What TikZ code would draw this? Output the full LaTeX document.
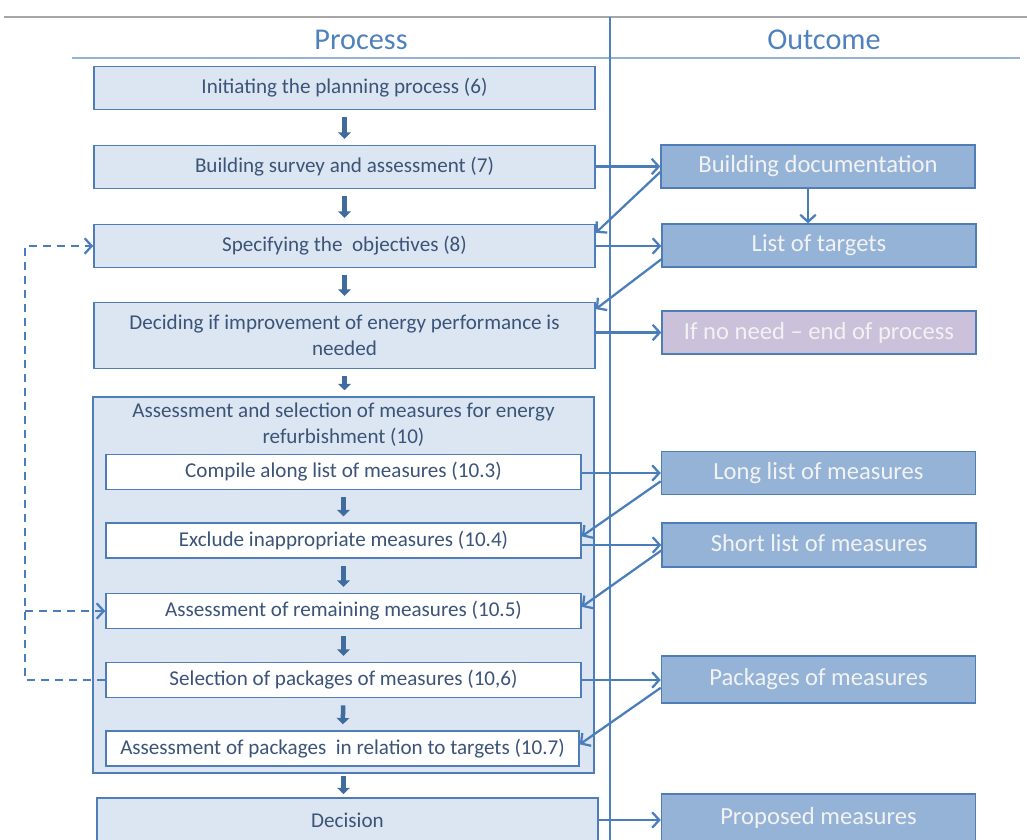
\documentclass[tikz,border=0pt]{standalone}
\usepackage{fontspec}
\setmainfont{Carlito}
\usetikzlibrary{arrows.meta}
\definecolor{boxfill}{HTML}{DCE6F2}
\definecolor{boxline}{HTML}{4F7DB8}
\definecolor{boxtext}{HTML}{3B5478}
\definecolor{outfill}{HTML}{95B3D7}
\definecolor{nofill}{HTML}{CCC1DA}
\definecolor{headblue}{HTML}{4F81BD}
\definecolor{arrowblue}{HTML}{4A7EBB}

\begin{document}
\begin{tikzpicture}[
	x=0.025cm, y=-0.025cm,
	stage/.style={ draw=boxline, fill=boxfill, text=boxtext, line width=1pt, minimum width=12.525cm, minimum height=1.075cm, inner sep=0pt, align=center, font=\fontsize{15}{18.4}\selectfont },
	substage/.style={ stage, fill=white, minimum width=11.875cm, minimum height=0.875cm },
	outcome/.style={ draw=boxline, fill=outfill, text=white!95!black, line width=1pt, minimum width=7.85cm, minimum height=1.075cm, inner sep=0pt, font=\fontsize{17.5}{21}\selectfont },
	head/.style={ text=headblue, font=\fontsize{21.5}{25}\selectfont },
	link/.style={ draw=arrowblue, line width=1.6pt, -{Straight Barb[length=5pt,width=11pt]} },
	down/.style={ draw=arrowblue!85!black, line width=3.2pt, -{Triangle[length=4.5pt,width=9pt]}, shorten <=0.18cm, shorten >=0.15cm },
	back/.style={ draw=arrowblue, line width=1.6pt, dash pattern=on 0.2cm off 0.15cm, -{Straight Barb[length=5pt,width=11pt]} }
]
\clip (0,0) rectangle (1027,840);

\draw[black!35, line width=1pt] (4,17) -- (1027,17);
\draw[outfill, line width=1.4pt] (72,58) -- (1020,58);
\draw[headblue, line width=0.8pt] (610,17) -- (610,840);
\node at (361,40) (hproc) [head] {Process};
\node at (824,40) (hout) [head] {Outcome};

\node at (344.5,88) (init) [stage] {Initiating the planning process (6)};
\node at (344.5,167) (survey) [stage] {Building survey and assessment (7)};
\node at (344.5,246) (spec) [stage] {Specifying the\ \ objectives (8)};
\node at (344.5,335.5) (decide) [stage, minimum height=1.65cm] {Deciding if improvement of energy performance is\\needed};

\node at (343.5,585) (measures) [stage, minimum height=9.4cm] {};
\node at (343.5,425) (mtitle) [text=boxtext, align=center, font=\fontsize{15}{18.4}\selectfont] {Assessment and selection of measures for energy\\refurbishment (10)};
\node at (343.5,472) (compile) [substage] {Compile along list of measures (10.3)};
\node at (343.5,540.5) (exclude) [substage] {Exclude inappropriate measures (10.4)};
\node at (343.5,611) (remain) [substage] {Assessment of remaining measures (10.5)};
\node at (343.5,680) (select) [substage] {Selection of packages of measures (10,6)};
\node at (342.5,748.5) (packs) [substage, minimum width=11.825cm] {Assessment of packages\ \ in relation to targets (10.7)};
\node at (347.5,820) (decision) [stage, minimum height=1.1cm] {Decision};

\node at (818,166.5) (doc) [outcome] {Building documentation};
\node at (819,245.5) (targets) [outcome] {List of targets};
\node at (819,332.5) (noneed) [outcome, fill=nofill] {If no need -- end of process};
\node at (818.5,473) (long) [outcome] {Long list of measures};
\node at (819,545) (short) [outcome, minimum height=1.1cm] {\raisebox{3pt}{Short list of measures}};
\node at (818.5,679.5) (packages) [outcome, minimum height=1.175cm] {Packages of measures};
\node at (818.5,818) (proposed) [outcome, minimum height=1.2cm] {Proposed measures};

% process steps
\draw[down] (init) -- (survey);
\draw[down] (survey) -- (spec);
\draw[down] (spec) -- (decide);
\draw[down] (decide.south) -- (decide.south |- measures.north);
\draw[down] (compile) -- (exclude);
\draw[down] (exclude) -- (remain);
\draw[down] (remain) -- (select);
\draw[down] (select) -- (packs);
\draw[down, shorten <=0.06cm, shorten >=0.08cm] (measures.south) -- (measures.south |- decision.north);

% outcomes
\draw[link] (survey.east |- doc.west) -- (doc.west);
\draw[link] (spec.east) -- (targets.west |- spec.east);
\draw[link] (decide.east |- noneed.west) -- (noneed.west);
\draw[link] (compile.east |- long.west) -- (long.west);
\draw[link] (exclude.east |- short.west) -- (short.west);
\draw[link] (select.east) -- (packages.west |- select.east);
\draw[link] (decision.east) -- (proposed.west |- decision.east);
\draw[link] ([xshift=-0.25cm]doc.south) -- ([xshift=-0.25cm]doc.south |- targets.north);

% feedback
\draw[link] (doc.182) -- (spec.3);
\draw[link] (targets.185) -- (decide.6);
\draw[link] (long.183) -- (exclude.1);
\draw[link] (short.182) -- (remain.1);
\draw[link] (packages.183) -- (packs.1);

% loop back
\coordinate (loop) at (25,680);
\draw[back] (select.west) -- (loop) |- (spec.west);
\draw[back] (loop |- remain.west) -- (remain.west);

\end{tikzpicture}
\end{document}
